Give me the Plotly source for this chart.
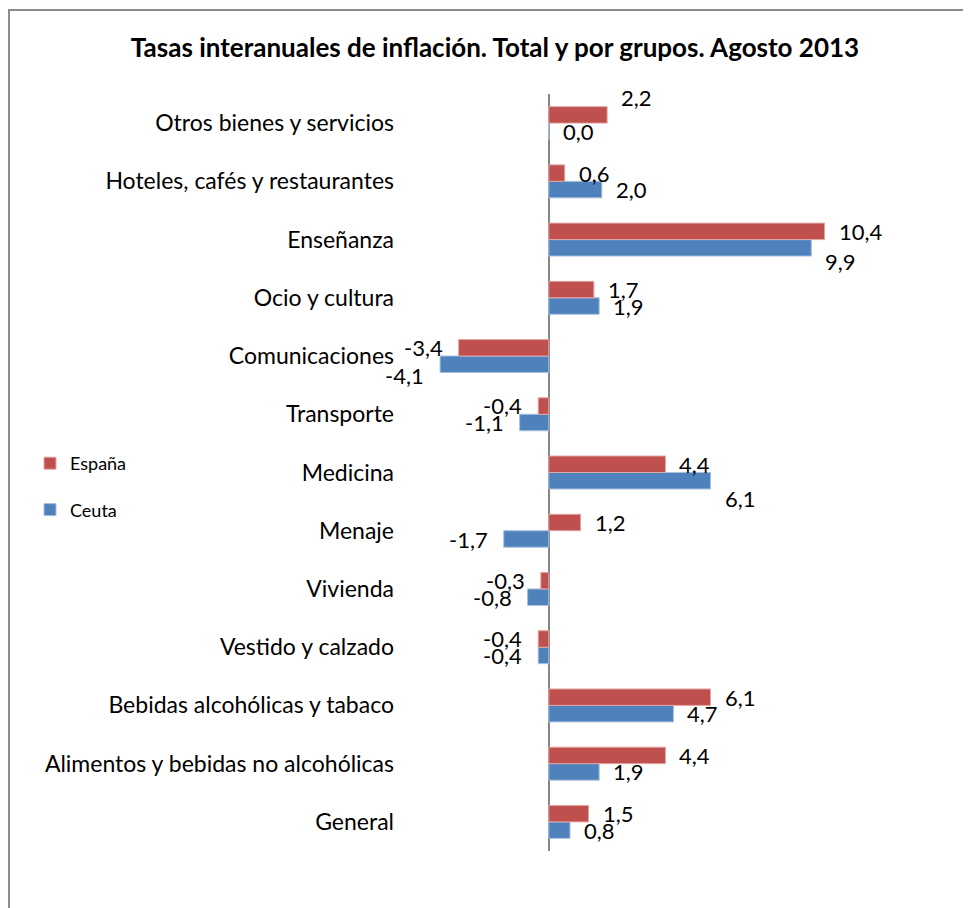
import plotly.graph_objects as go

# Data (bottom to top in plotting order)
categories = [
    "General",
    "Alimentos y bebidas no alcohólicas",
    "Bebidas alcohólicas y tabaco",
    "Vestido y calzado",
    "Vivienda",
    "Menaje",
    "Medicina",
    "Transporte",
    "Comunicaciones",
    "Ocio y cultura",
    "Enseñanza",
    "Hoteles, cafés y restaurantes",
    "Otros bienes y servicios",
]
espana = [1.5, 4.4, 6.1, -0.4, -0.3, 1.2, 4.4, -0.4, -3.4, 1.7, 10.4, 0.6, 2.2]
ceuta = [0.8, 1.9, 4.7, -0.4, -0.8, -1.7, 6.1, -1.1, -4.1, 1.9, 9.9, 2.0, 0.0]

title = "Tasas interanuales de inflación. Total y por grupos. Agosto 2013"

# Styling (the page has an 8px body margin, so the figure is 963x900)
FONT = "Lato"
RED = "#C0504D"
BLUE = "#4F81BD"
W, H = 963, 900
ML, MR, MT, MB = 387, 104, 86, 57
XR = [-5.8, 12]

# manual label nudges (pixels, vertical) as in the original chart
esp_dy = {"Otros bienes y servicios": 17}
ceu_dy = {"Enseñanza": -14, "Comunicaciones": -11, "Medicina": -18}


def fmt(v):
    return f"{v:.1f}".replace(".", ",")


fig = go.Figure()
fig.add_trace(go.Bar(y=categories, x=ceuta, name="Ceuta", orientation="h",
                     marker=dict(color=BLUE, line=dict(color="#A7C0DE", width=1)),
                     legendgroup="c", legendrank=2, hoverinfo="x+y"))
fig.add_trace(go.Bar(y=categories, x=espana, name="España", orientation="h",
                     marker=dict(color=RED, line=dict(color="#E0A8A6", width=1)),
                     legendgroup="e", legendrank=1, hoverinfo="x+y"))

annotations = []
for series, sign_y, dy in ((espana, 1, esp_dy), (ceuta, -1, ceu_dy)):
    for cat, v in zip(categories, series):
        pos = v >= 0
        annotations.append(dict(
            x=v, y=cat, xref="x", yref="y", text=fmt(v), showarrow=False,
            xanchor="left" if pos else "right",
            xshift=12 if pos else -14,
            yshift=sign_y * 8.3 + dy.get(cat, 0),
            font=dict(family=FONT, size=22, color="#000000"),
        ))

pw = W - ML - MR
ph = H - MT - MB


def px_to_paper_x(px):
    return (px - ML) / pw


def px_to_paper_y(py):
    return (H - MB - py) / ph


shapes = [
    dict(type="line", xref="paper", yref="paper",
         x0=px_to_paper_x(1), x1=px_to_paper_x(1),
         y0=px_to_paper_y(2), y1=px_to_paper_y(H + 5),
         line=dict(color="#8C8C8C", width=2)),
    dict(type="line", xref="paper", yref="paper",
         x0=px_to_paper_x(0), x1=px_to_paper_x(W + 5),
         y0=px_to_paper_y(2), y1=px_to_paper_y(2),
         line=dict(color="#8C8C8C", width=2)),
]

fig.update_layout(
    width=W, height=H,
    margin=dict(l=ML, r=MR, t=MT, b=MB, autoexpand=False),
    paper_bgcolor="white", plot_bgcolor="white",
    barmode="group", bargap=0.434, bargroupgap=0,
    title=dict(text=f"<b>{title}</b>", x=487 / W, xanchor="center",
               y=1 - 40 / H, yanchor="middle", yref="container",
               font=dict(family=FONT, size=26, color="#000000")),
    font=dict(family=FONT, size=22, color="#000000"),
    xaxis=dict(range=XR, showticklabels=False, showgrid=False, ticks="",
               zeroline=True, zerolinecolor="#868686", zerolinewidth=2,
               showline=False, fixedrange=True, automargin=False),
    yaxis=dict(categoryorder="array", categoryarray=categories,
               showgrid=False, ticks="", showline=False, automargin=False,
               tickfont=dict(family=FONT, size=23, color="#000000"),
               range=[-0.5, len(categories) - 0.5], fixedrange=True),
    legend=dict(xref="container", yref="container", x=22 / W, y=1 - 437 / H,
                xanchor="left", yanchor="top", tracegroupgap=20,
                font=dict(family=FONT, size=18, color="#000000"),
                bgcolor="rgba(0,0,0,0)"),
    annotations=annotations,
    shapes=shapes,
    showlegend=True,
)

fig.write_html("out.html")
